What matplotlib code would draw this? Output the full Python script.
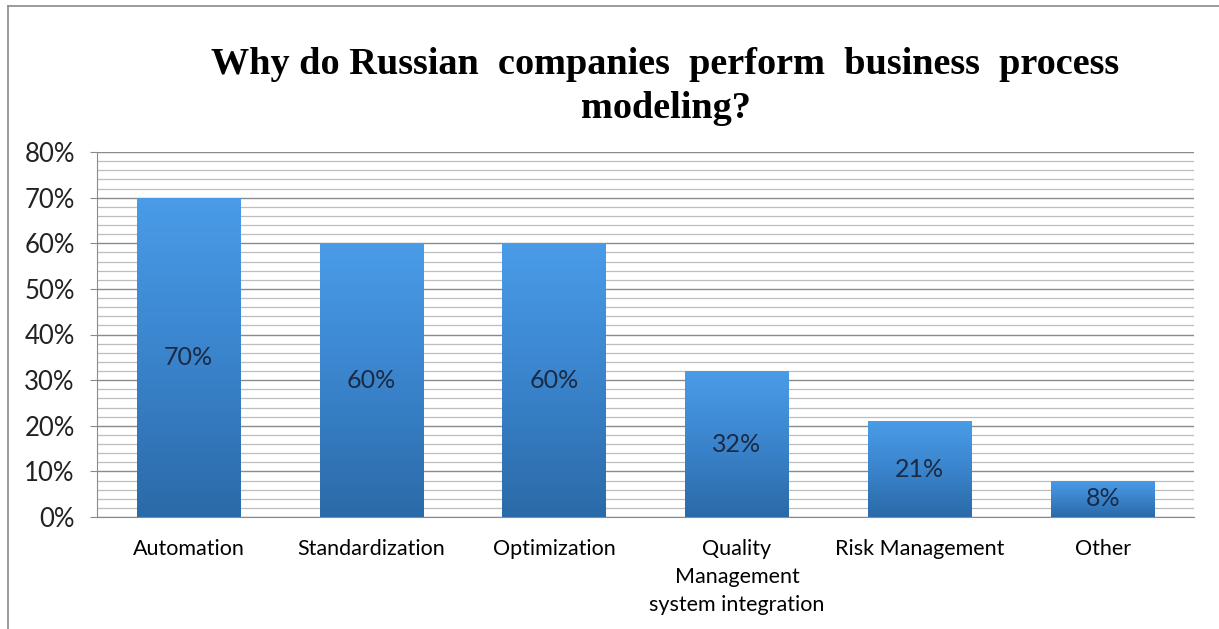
import numpy as np
import matplotlib
matplotlib.use("Agg")
import matplotlib.pyplot as plt
from matplotlib.colors import LinearSegmentedColormap
from matplotlib.lines import Line2D
from matplotlib.ticker import MultipleLocator, FuncFormatter

categories = ["Automation", "Standardization", "Optimization",
              "Quality\nManagement\nsystem integration", "Risk Management", "Other"]
values = [70, 60, 60, 32, 21, 8]
title_lines = ["Why do Russian  companies  perform  business  process", "modeling?"]

W, H = 1219, 629
fig = plt.figure(figsize=(W / 100, H / 100), dpi=100)
fig.patch.set_facecolor("white")

ax = fig.add_axes([97 / W, 1 - 517 / H, 1097 / W, 365 / H])
x = np.arange(len(categories))
bars = ax.bar(x, values, width=0.565, color="none", edgecolor="none", zorder=3)

# vertical blue gradient inside each bar
cmap = LinearSegmentedColormap.from_list("barblue", ["#2b6aa8", "#3a84cc", "#4a9ce8"])
grad = np.linspace(0, 1, 256).reshape(-1, 1)
for b in bars:
    x0, y0 = b.get_x(), b.get_y()
    w, h = b.get_width(), b.get_height()
    im = ax.imshow(grad, cmap=cmap, origin="lower", aspect="auto",
                   extent=[x0, x0 + w, y0, y0 + h], zorder=3)
    im.set_clip_path(b)

for xi, v in zip(x, values):
    ax.text(xi, v / 2, f"{v}%", ha="center", va="center", fontsize=18,
            family="Lato", color="#1c2a44", zorder=4)

ax.set_xlim(-0.5, len(categories) - 0.5)
ax.set_ylim(0, 80)
ax.yaxis.set_major_locator(MultipleLocator(10))
ax.yaxis.set_minor_locator(MultipleLocator(2))
ax.yaxis.set_major_formatter(FuncFormatter(lambda v, p: f"{v:.0f}%"))
ax.grid(axis="y", which="major", color="#8a8a8a", linewidth=1.0, zorder=0)
ax.grid(axis="y", which="minor", color="#bdbdbd", linewidth=0.9, zorder=0)
ax.set_axisbelow(True)

for s in ["top", "right"]:
    ax.spines[s].set_visible(False)
ax.spines["left"].set_color("#8a8a8a")
ax.spines["bottom"].set_color("#8a8a8a")
ax.tick_params(axis="y", which="major", length=5, color="#8a8a8a",
               labelsize=18.5, labelcolor="#222222", pad=11)
ax.tick_params(axis="y", which="minor", length=0)
ax.tick_params(axis="x", length=0, pad=15.5)
for lab in ax.get_yticklabels():
    lab.set_family("Lato")
ax.set_xticks(x)
ax.set_xticklabels(categories, fontsize=15.5, family="Lato", color="#000000",
                   linespacing=1.5, va="top")

fig.text(665 / W, 1 - 74 / H, title_lines[0], ha="center", va="baseline",
         fontsize=27.5, fontweight="bold", family="Liberation Serif", color="#000000")
fig.text(666 / W, 1 - 118 / H, title_lines[1], ha="center", va="baseline",
         fontsize=27.5, fontweight="bold", family="Liberation Serif", color="#000000")

# chart frame (top and left edges)
fig.add_artist(Line2D([8 / W, 8 / W], [0, 1 - 6 / H], transform=fig.transFigure,
                      color="#8a8a8a", linewidth=1.2))
fig.add_artist(Line2D([8 / W, 1], [1 - 6 / H, 1 - 6 / H], transform=fig.transFigure,
                      color="#8a8a8a", linewidth=1.2))

fig.savefig("out.png", dpi=100, facecolor="white")
